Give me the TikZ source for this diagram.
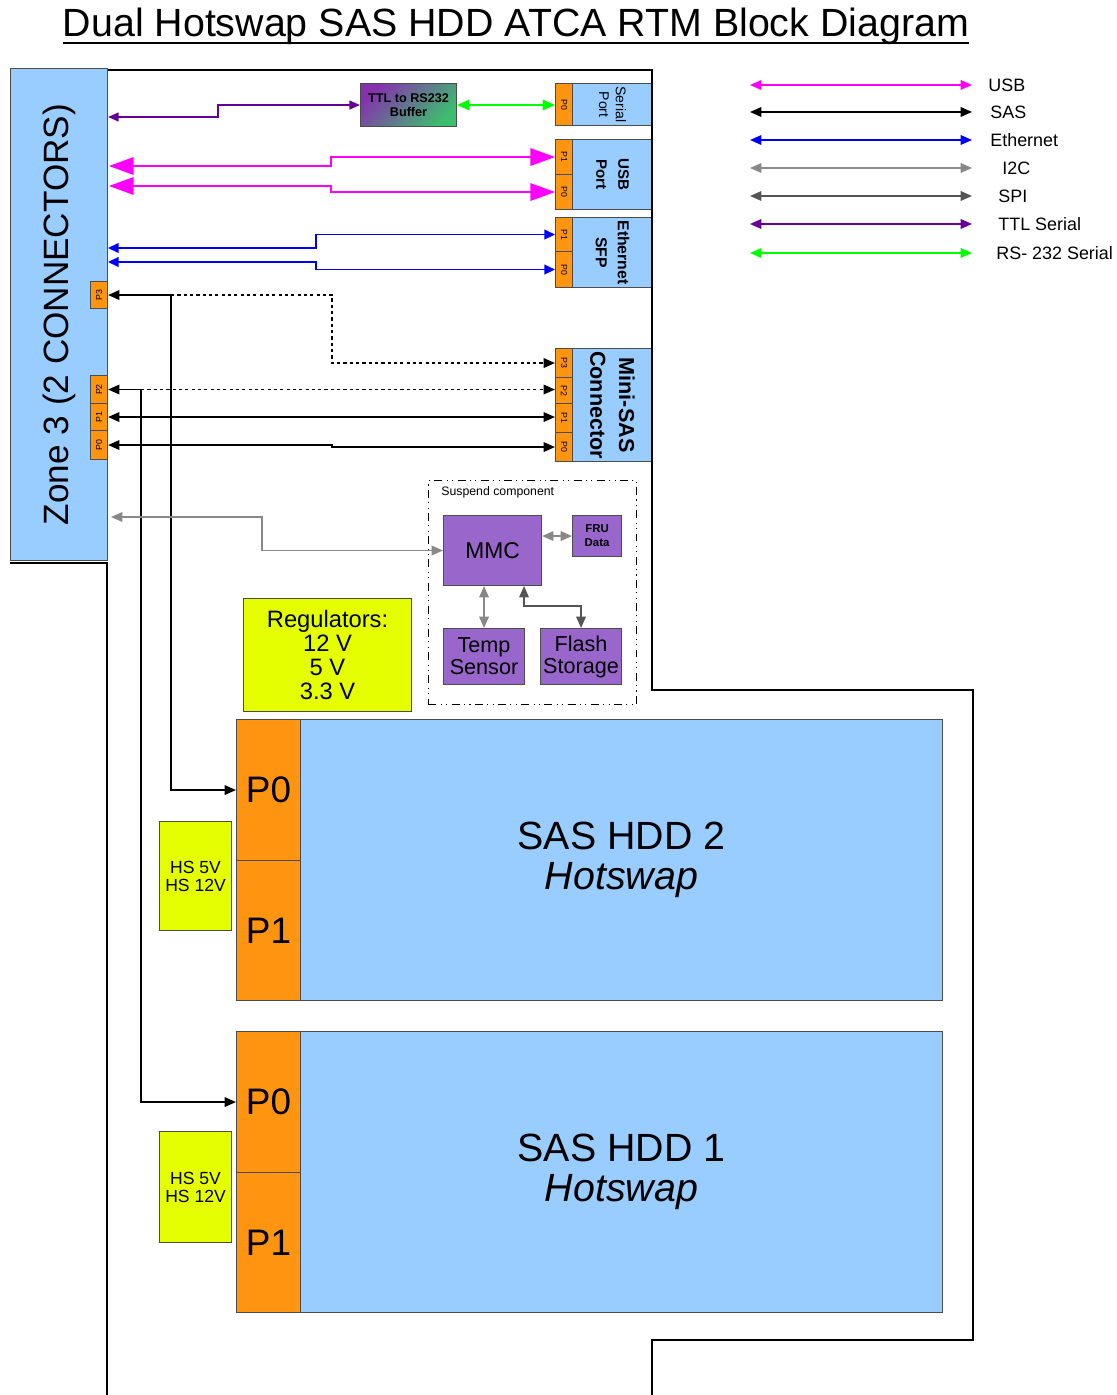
\documentclass[tikz,border=0pt]{standalone}
\usepackage{fontspec}
\setmainfont{Liberation Sans}
\usepackage{graphicx}
\usetikzlibrary{arrows.meta}

\definecolor{rtmblue}{RGB}{153,204,255}
\definecolor{rtmorange}{RGB}{255,148,17}
\definecolor{rtmpurple}{RGB}{153,102,204}
\definecolor{rtmyellow}{RGB}{230,255,0}
\definecolor{usbcol}{RGB}{255,0,255}
\definecolor{ethcol}{RGB}{0,0,255}
\definecolor{i2ccol}{RGB}{136,136,136}
\definecolor{spicol}{RGB}{85,85,85}
\definecolor{ttlcol}{RGB}{102,0,153}
\definecolor{rscol}{RGB}{0,255,0}
\definecolor{bufgreen}{RGB}{60,190,110}

% one pixel of the original sketch
\newlength{\pxl}
\setlength{\pxl}{0.02cm}

\begin{document}
\begin{tikzpicture}[x=0.02cm, y=-0.02cm,
    sz/.style 2 args={minimum width=#1\pxl, minimum height=#2\pxl},
    blk/.style={draw=black!70, line width=0.6pt, inner sep=0pt, anchor=north west},
    bluebox/.style={blk, fill=rtmblue},
    pinbox/.style={blk, fill=rtmorange, font=\fontsize{5}{5}\selectfont},
    chip/.style={blk, fill=rtmpurple, align=center},
    supply/.style={blk, fill=rtmyellow, align=center},
    board/.style={line width=1.6pt},
    wire/.style={line width=0.85pt},
    usbwire/.style={wire, usbcol, >={Triangle[length=14pt,width=10pt]}},
    ethwire/.style={wire, ethcol, >={Triangle[length=6pt,width=5.5pt]}},
    saswire/.style={wire, black, >={Triangle[length=6.5pt,width=5.5pt]}},
    sasdots/.style={dash pattern=on 1.8pt off 1.8pt},
    ttlwire/.style={wire, ttlcol, >={Triangle[length=6pt,width=5pt]}},
    rswire/.style={wire, rscol, >={Triangle[length=7pt,width=6pt]}},
    i2cwire/.style={wire, i2ccol, >={Triangle[length=6.5pt,width=5.5pt]}},
    spiwire/.style={wire, spicol, >={Triangle[length=6.5pt,width=5.5pt]}},
    lgwire/.style={wire, <->, >={Triangle[length=6.5pt,width=5.5pt]}},
    lgtext/.style={anchor=west, inner sep=0pt, font=\fontsize{10.2}{12}\selectfont}]
  \useasboundingbox (0,0) rectangle (1116,1395);

  % Title
  \node[anchor=base, inner sep=0pt, font=\fontsize{22.4}{27}\selectfont] (title) at (516,37)
    {Dual Hotswap SAS HDD ATCA RTM Block Diagram};
  \draw[line width=1.2pt] ([yshift=-3.4pt]title.base west) -- ([yshift=-3.4pt]title.base east);

  % Zone 3 and its pins
  \node[bluebox, sz={97}{492}] (zone) at (10,68) {};
  \node[rotate=90, font=\fontsize{20}{24}\selectfont] (zonelbl) at (zone.center) {Zone 3 (2 CONNECTORS)};
  \node[pinbox, sz={17}{27}] (zp3) at (90,281) {\rotatebox{90}{P3}};
  \node[pinbox, sz={17}{28}] (zp2) at (90,375) {\rotatebox{90}{P2}};
  \node[pinbox, sz={17}{27}] (zp1) at (90,403) {\rotatebox{90}{P1}};
  \node[pinbox, sz={17}{29}] (zp0) at (90,430) {\rotatebox{90}{P0}};

  % Serial port
  \node[pinbox, sz={17}{42}] (sp0) at (555,83) {\rotatebox{-90}{P0}};
  \node[bluebox, sz={80}{42}] (serial) at (572,83) {};
  \node[rotate=-90, align=center, font=\fontsize{8}{9.6}\selectfont] (seriallbl) at (serial.center) {Serial\\Port};

  % USB port
  \node[pinbox, sz={17}{35}] (up1) at (555,139) {\rotatebox{-90}{P1}};
  \node[pinbox, sz={17}{35}] (up0) at (555,174) {\rotatebox{-90}{P0}};
  \node[bluebox, sz={80}{70}] (usb) at (572,139) {};
  \node[rotate=-90, align=center, font=\bfseries\fontsize{8.6}{12.5}\selectfont] (usblbl) at (usb.center) {USB\\Port};

  % Ethernet SFP
  \node[pinbox, sz={17}{34}] (ep1) at (555,217) {\rotatebox{-90}{P1}};
  \node[pinbox, sz={17}{36}] (ep0) at (555,251) {\rotatebox{-90}{P0}};
  \node[bluebox, sz={80}{70}] (eth) at (572,217) {};
  \node[rotate=-90, align=center, font=\bfseries\fontsize{9}{12.5}\selectfont] (ethlbl) at (eth.center) {Ethernet\\SFP};

  % Mini-SAS connector
  \node[pinbox, sz={17}{29}] (mp3) at (555,348) {\rotatebox{-90}{P3}};
  \node[pinbox, sz={17}{26}] (mp2) at (555,377) {\rotatebox{-90}{P2}};
  \node[pinbox, sz={17}{29}] (mp1) at (555,403) {\rotatebox{-90}{P1}};
  \node[pinbox, sz={17}{29}] (mp0) at (555,432) {\rotatebox{-90}{P0}};
  \node[bluebox, sz={80}{113}] (msas) at (572,348) {};
  \node[rotate=-90, align=center, font=\bfseries\fontsize{12.3}{16.4}\selectfont] (msaslbl) at (msas.center) {Mini-SAS\\Connector};

  % Serial buffer
  \node[blk, sz={96}{43}, left color=ttlcol!80, right color=bufgreen, shading angle=45,
        align=center, font=\bfseries\fontsize{7.2}{7.6}\selectfont] (buf) at (360,83) {TTL to RS232\\Buffer};

  % Suspend component
  \node[draw=black, line width=0.6pt, dash pattern=on 4.5pt off 2.5pt on 0.6pt off 2.5pt on 0.6pt off 2.5pt,
        inner sep=0pt, anchor=north west, sz={208}{224}] (susp) at (428,480) {};
  \node[anchor=west, inner sep=0pt, font=\fontsize{7}{8}\selectfont] (susplbl) at (441,492) {Suspend component};
  \node[chip, sz={98}{70}, font=\fontsize{13}{15}\selectfont] (mmc) at (443,515) {MMC};
  \node[chip, sz={49}{41}, font=\bfseries\fontsize{6.5}{8}\selectfont] (fru) at (572,515) {FRU\\Data};
  \node[chip, sz={81}{56}, font=\fontsize{12.3}{12.5}\selectfont] (temp) at (443,628) {Temp\\Sensor};
  \node[chip, sz={81}{56}, font=\fontsize{12.3}{12.5}\selectfont] (flash) at (540,628) {Flash\\Storage};

  % Regulators
  \node[supply, sz={168}{113}, font=\fontsize{13.5}{13.6}\selectfont] (reg) at (243,598) {Regulators:\\12 V\\5 V\\3.3 V};

  % SAS HDD 2
  \node[pinbox, sz={64}{141}, font=\fontsize{21}{24}\selectfont] (h2p0) at (236,719) {P0};
  \node[pinbox, sz={64}{140}, font=\fontsize{21}{24}\selectfont] (h2p1) at (236,860) {P1};
  \node[bluebox, sz={642}{281}, align=center, font=\fontsize{22.4}{22.7}\selectfont] (hdd2) at (300,719) {SAS HDD 2\\\textit{Hotswap}};
  \node[supply, sz={72}{109}, font=\fontsize{10}{10.2}\selectfont] (hs2) at (159,821) {HS 5V\\HS 12V};

  % SAS HDD 1
  \node[pinbox, sz={64}{141}, font=\fontsize{21}{24}\selectfont] (h1p0) at (236,1031) {P0};
  \node[pinbox, sz={64}{140}, font=\fontsize{21}{24}\selectfont] (h1p1) at (236,1172) {P1};
  \node[bluebox, sz={642}{281}, align=center, font=\fontsize{22.4}{22.7}\selectfont] (hdd1) at (300,1031) {SAS HDD 1\\\textit{Hotswap}};
  \node[supply, sz={72}{111}, font=\fontsize{10}{10.2}\selectfont] (hs1) at (159,1131) {HS 5V\\HS 12V};

  % Board outline
  \draw[board] (108,70) -- (652,70) -- (652,690) -- (973,690) -- (973,1340) -- (652,1340) -- (652,1395);
  \draw[board] (10,563) -- (107,563) -- (107,1395);

  % TTL serial and RS-232
  \coordinate (zttl) at (108,117);
  \draw[ttlwire, <->] (zttl) -- (218,117) |- (buf.west);
  \draw[rswire, <->] (buf.east) -- (buf.east -| sp0.west);

  % USB
  \coordinate (zusb1) at (109,166);
  \coordinate (zusb0) at (109,186);
  \draw[usbwire, <->] (zusb1) -- (331,166) |- (up1.west);
  \draw[usbwire, <->] (zusb0) -- (331,186) |- (up0.west);

  % Ethernet
  \coordinate (zeth1) at (108,248);
  \coordinate (zeth0) at (108,262);
  \draw[ethwire, <->] (zeth1) -- (316,248) |- (ep1.west);
  \draw[ethwire, <->] (zeth0) -- (316,262) |- (ep0.west);

  % SAS
  \draw[saswire, <->] (zp3.east) -- ++(63,0) coordinate (tap3) |- (h2p0.west);
  \draw[saswire, sasdots, ->] (tap3) -- ++(161,0) |- (mp3.west);
  \draw[saswire, <->] (zp2.east) -- ++(33,0) coordinate (tap2) |- (h1p0.west);
  \draw[saswire, sasdots, ->] (tap2) -- (tap2 -| mp2.west);
  \draw[saswire, <->] (zp1.east) -- (zp1.east -| mp1.west);
  \draw[saswire, <->] (zp0.east) -- ++(224,0) |- (mp0.west);

  % I2C and SPI
  \coordinate (zi2c) at (111,517);
  \draw[i2cwire, <->] (zi2c) -- (262,517) |- (mmc.west);
  \draw[i2cwire, <->] (mmc.east |- fru.west) -- (fru.west);
  \draw[i2cwire, <->] (mmc.south -| temp.north) -- (temp.north);
  \draw[spiwire, <->] ([xshift=-18\pxl]mmc.south east) -- ++(0,20) -| (flash.north);

  % Legend
  \foreach \i/\y/\c in {1/85/usbcol, 2/112/black, 3/140/ethcol, 4/168/i2ccol,
                        5/196/spicol, 6/224/ttlcol, 7/253/rscol}
    \draw[lgwire, \c] (750,\y) coordinate (lg\i-l) -- (972,\y) coordinate (lg\i-r);
  \node[lgtext] (lgusb) at (988,85) {USB};
  \node[lgtext] (lgsas) at (990,112) {SAS};
  \node[lgtext] (lgeth) at (990,140) {Ethernet};
  \node[lgtext] (lgi2c) at (1002,168) {I2C};
  \node[lgtext] (lgspi) at (998,196) {SPI};
  \node[lgtext] (lgttl) at (998,224) {TTL Serial};
  \node[lgtext] (lgrs) at (996,253) {RS- 232 Serial};
\end{tikzpicture}
\end{document}
